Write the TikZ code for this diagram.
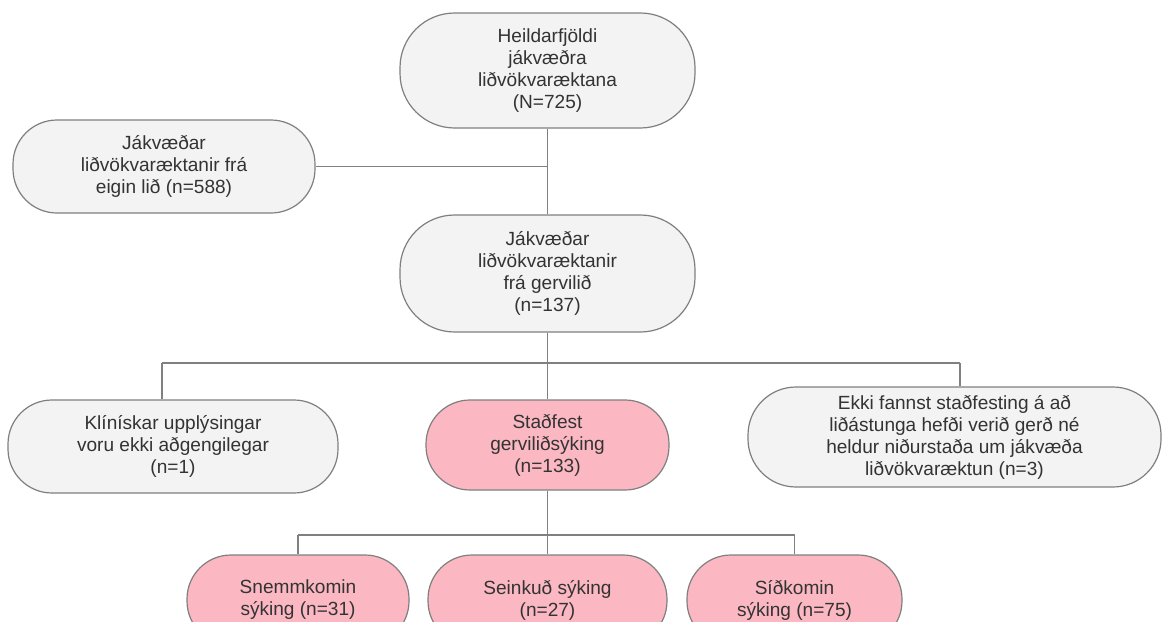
\documentclass[tikz,border=0pt]{standalone}
\usepackage{fontspec}
\setmainfont{Liberation Sans}
\definecolor{boxgray}{HTML}{F3F3F3}
\definecolor{boxpink}{HTML}{FBB8C2}
\definecolor{edgegray}{HTML}{7F7F7F}
\definecolor{linegray}{HTML}{808080}
\definecolor{txt}{HTML}{333333}
\tikzset{
  flowbox/.style={draw=edgegray, line width=0.9pt, fill=boxgray, rounded corners=33pt,
    align=center, inner sep=0pt, text=txt,
    font=\fontsize{14.3pt}{16.5pt}\selectfont},
  pinkbox/.style={flowbox, fill=boxpink},
  link/.style={draw=linegray, line width=0.9pt}
}
\begin{document}
\begin{tikzpicture}[x=0.75pt, y=-0.75pt]
\useasboundingbox (0,0) rectangle (1167,621);
\clip (0,0) rectangle (1167,621);
\node[flowbox, rounded corners=41pt, minimum width=221.25pt, minimum height=86.25pt] (top) at (547.5,70.5)
  {Heildarfjöldi\\jákvæðra\\liðvökvaræktana\\(N=725)};
\node[flowbox, minimum width=226.5pt, minimum height=69.75pt] (eigin) at (164,166.5)
  {Jákvæðar\\liðvökvaræktanir frá\\eigin lið (n=588)};
\node[flowbox, rounded corners=41pt, minimum width=221.25pt, minimum height=87.75pt] (gervi) at (547.5,273.5)
  {Jákvæðar\\liðvökvaræktanir\\frá gervilið\\(n=137)};
\node[flowbox, minimum width=247.5pt, minimum height=69.75pt] (klin) at (173,446.5)
  {Klínískar upplýsingar\\voru ekki aðgengilegar\\(n=1)};
\node[pinkbox, minimum width=182.25pt, minimum height=67.5pt] (stad) at (547.5,445)
  {Staðfest\\gerviliðsýking\\(n=133)};
\node[flowbox, rounded corners=36pt, minimum width=309.75pt, minimum height=75pt] (ekki) at (954.5,437)
  {Ekki fannst staðfesting á að\\liðástunga hefði verið gerð né\\heldur niðurstaða um jákvæða\\liðvökvaræktun (n=3)};
\node[pinkbox, minimum width=166.5pt, minimum height=67.5pt] (snemm) at (298,600)
  {Snemmkomin\\sýking (n=31)};
\node[pinkbox, minimum width=179.25pt, minimum height=67.5pt] (seink) at (547.5,600)
  {Seinkuð sýking\\(n=27)};
\node[pinkbox, minimum width=161.25pt, minimum height=67.5pt] (sido) at (794.5,600)
  {Síðkomin\\sýking (n=75)};
% connectors
\coordinate (bl) at (162,363);
\coordinate (br) at (960,363);
\coordinate (cl) at (298,535);
\coordinate (cr) at (794.5,535);
\path[link] (top.south) -- (gervi.north);
\path[link] (eigin.east) -- (eigin.east -| top.south);
\path[link] (gervi.south) -- (stad.north);
\path[link] (bl) -- (br);
\path[link] (bl) -- (bl |- klin.north);
\path[link] (br) -- (br |- ekki.north);
\path[link] (stad.south) -- (seink.north);
\path[link] (cl) -- (cr);
\path[link] (cl) -- (snemm.north);
\path[link] (cr) -- (sido.north);
\end{tikzpicture}
\end{document}
